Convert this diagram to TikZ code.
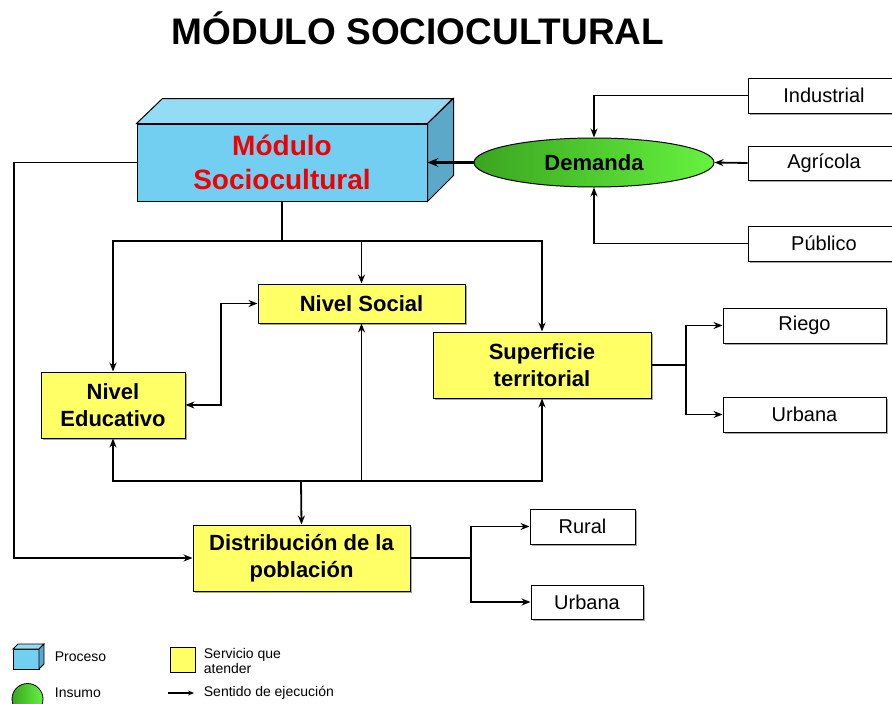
\documentclass[tikz,border=0pt]{standalone}
\usepackage{fontspec}
\setmainfont{Liberation Sans}
\usetikzlibrary{arrows.meta,shadows,shapes.geometric}
\definecolor{ybox}{HTML}{FFFF66}
\definecolor{cfront}{HTML}{72CFF2}
\definecolor{ctop}{HTML}{94DCF6}
\definecolor{cside}{HTML}{5BA8C8}
\definecolor{gdark}{HTML}{3AA520}
\definecolor{glight}{HTML}{66F23F}
\definecolor{mred}{HTML}{F00000}
\begin{document}
\begin{tikzpicture}[x=1pt,y=-1pt,
  line width=1.8pt,
  tip/.style={-{Stealth[length=9pt,width=7pt,inset=3pt]}},
  dtip/.style={{Stealth[length=9pt,width=7pt,inset=3pt]}-{Stealth[length=9pt,width=7pt,inset=3pt]}},
  shad/.style={drop shadow={shadow xshift=2pt,shadow yshift=-2pt,opacity=0.35,fill=black}},
  servbox/.style={draw,line width=1pt,fill=ybox,inner sep=0pt,align=center,shad,
     font=\fontsize{22}{27}\selectfont\bfseries},
  outbox/.style={draw,line width=1pt,fill=white,inner sep=0pt,align=center,shad,
     font=\fontsize{20}{24}\selectfont},
  legtext/.style={anchor=west,inner sep=0pt,align=left,font=\fontsize{14}{15}\selectfont}
]
\clip (0,0) rectangle (892,704);
\fill[white] (0,0) rectangle (892,704);

% title
\node[anchor=base,inner sep=0pt,font=\fontsize{37}{40}\selectfont\bfseries] (title) at (418,44) {MÓDULO SOCIOCULTURAL};

% cube
\node[draw,line width=1pt,fill=cfront,minimum width=290pt,minimum height=77pt,inner sep=0pt,
      align=center,text=mred,font=\fontsize{28}{34}\selectfont\bfseries] (mod) at (282,162.5) {Módulo\\Sociocultural};
\filldraw[line width=1pt,fill=ctop] (mod.north west) -- ++(26,-25) -- ++(290,0) -- (mod.north east) -- cycle;
\filldraw[line width=1pt,fill=cside] (mod.north east) -- ++(26,-25) -- ++(0,77) -- (mod.south east) -- cycle;

% demand
\node[draw,line width=1pt,ellipse,minimum width=240pt,minimum height=49pt,inner sep=0pt,
      left color=gdark,right color=glight,font=\fontsize{22}{26}\selectfont\bfseries] (dem) at (594,162.5) {Demanda};
\node[outbox,minimum width=152pt,minimum height=35pt] (ind) at (824,95.5) {Industrial};
\node[outbox,minimum width=152pt,minimum height=34pt] (agr) at (824,163) {Agrícola};
\node[outbox,minimum width=152pt,minimum height=35pt] (pub) at (824,243.5) {Público};

\draw[line width=3.2pt,-{Stealth[length=11pt,width=9pt,inset=4pt]}] (dem.west) -- (mod.east);
\draw[tip] (ind.west) -| (dem.north);
\draw[tip] (agr.west) -- (dem.east);
\draw[tip] (pub.west) -| (dem.south);

% service boxes
\node[servbox,minimum width=207pt,minimum height=39pt] (ns) at (361.5,303.5) {Nivel Social};
\node[servbox,minimum width=144pt,minimum height=66pt] (ne) at (113,405) {Nivel\\Educativo};
\node[servbox,minimum width=218pt,minimum height=66pt] (sup) at (542,365) {Superficie\\territorial};
\node[servbox,minimum width=217pt,minimum height=66pt] (dist) at (301.5,558) {Distribución de la\\población};

\node[outbox,minimum width=163pt,minimum height=35pt] (rie) at (804.5,325.5) {Riego};
\node[outbox,minimum width=163pt,minimum height=35pt] (urb1) at (804.5,414.5) {Urbana};
\node[outbox,minimum width=105pt,minimum height=35pt] (rur) at (582.5,526.5) {Rural};
\node[outbox,minimum width=112pt,minimum height=34pt] (urb2) at (587,602) {Urbana};

% top split
\coordinate (split) at (282,241);
\draw (mod.south) -- (split);
\draw[tip] (split) -| (ne.north);
\draw[tip] (split) -| (ns.north);
\draw[tip] (split) -| (sup.north);

% left line
\coordinate (lft) at (14,400);
\draw[tip] (mod.west) -| (lft) |- (dist.west);

% bottom bus
\coordinate (bus) at (301,481);
\draw[tip] (bus) -- (dist.north);
\draw[tip] (bus) -| (ne.south);
\draw[tip] (bus) -| (ns.south);
\draw[tip] (bus) -| (sup.south);

% double arrow
\coordinate (dbl) at (221,350);
\draw[dtip] (ne.east) -| (dbl) |- (ns.west);

% branches
\coordinate (sb) at (686,365);
\draw (sup.east) -- (sb);
\draw[tip] (sb) |- (rie.west);
\draw[tip] (sb) |- (urb1.west);
\coordinate (db) at (471,558);
\draw (dist.east) -- (db);
\draw[tip] (db) |- (rur.west);
\draw[tip] (db) |- (urb2.west);

% legend
\filldraw[line width=0.8pt,fill=cfront] (13,649) rectangle (39,669);
\filldraw[line width=0.8pt,fill=ctop] (13,649) -- ++(5,-5) -- ++(26,0) -- (39,649) -- cycle;
\filldraw[line width=0.8pt,fill=cside] (39,649) -- ++(5,-5) -- ++(0,20) -- (39,669) -- cycle;
\node[legtext] (lp) at (54,657) {Proceso};
\draw[line width=0.8pt,left color=gdark,right color=glight] (27.5,699) circle (15.5);
\node[legtext] (li) at (54,693) {Insumo};
\filldraw[line width=0.8pt,fill=ybox] (170,647) rectangle (195,672);
\node[legtext] (ls) at (203,661) {Servicio que\\atender};
\coordinate (la1) at (168,693);
\coordinate (la2) at (194,693);
\draw[line width=1.2pt,-{Stealth[length=6pt,width=5pt,inset=2pt]}] (la1) -- (la2);
\node[legtext] (lse) at (203,693) {Sentido de ejecución};
\end{tikzpicture}
\end{document}
